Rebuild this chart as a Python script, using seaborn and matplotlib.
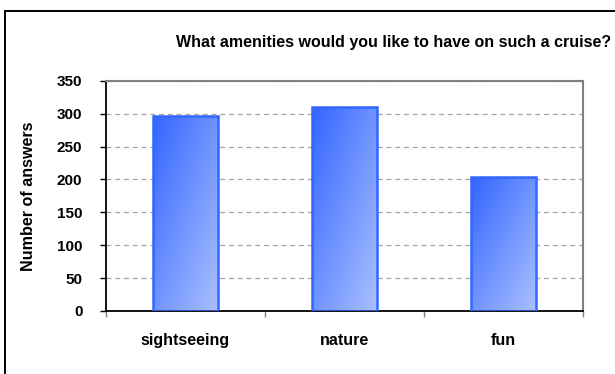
import numpy as np
import pandas as pd
import matplotlib
matplotlib.use("Agg")
import matplotlib.pyplot as plt
from matplotlib.colors import LinearSegmentedColormap
from matplotlib.lines import Line2D
import seaborn as sns

# Survey results
categories = ["sightseeing", "nature", "fun"]
answers = [297, 310, 203]
y_ticks = [0, 50, 100, 150, 200, 250, 300, 350]
title = "What amenities would you like to have on such a cruise?"
y_label = "Number of answers"

df = pd.DataFrame({"amenity": categories, "answers": answers})

sns.set_theme(style="white")
plt.rcParams["font.family"] = ["Liberation Sans", "DejaVu Sans"]
plt.rcParams["font.weight"] = "bold"
plt.rcParams["text.color"] = "black"
plt.rcParams["axes.labelcolor"] = "black"
plt.rcParams["xtick.labelcolor"] = "black"
plt.rcParams["ytick.labelcolor"] = "black"

W, H = 615, 374
fig = plt.figure(figsize=(W / 100, H / 100), dpi=100)
fig.patch.set_facecolor("white")

left, right, top, bottom = 106, 583, 80.7, 311
ax = fig.add_axes([left / W, 1 - bottom / H, (right - left) / W, (bottom - top) / H])

edge_blue = "#3366FF"
sns.barplot(data=df, x="amenity", y="answers", ax=ax, width=0.41,
            color=edge_blue, edgecolor=edge_blue, linewidth=1.8, saturation=1)

ax.set_xlim(-0.5, len(categories) - 0.5)
ax.set_ylim(0, 350)
ax.set_yticks(y_ticks)
ax.set_xlabel("")

# diagonal gradient fill inside each bar, clipped to the bar outline
grad_cmap = LinearSegmentedColormap.from_list("bar_grad", ["#3366FF", "#ABC0FF"])
n = 120
jj, ii = np.meshgrid(np.linspace(0, 1, n), np.linspace(0, 1, n))
grad = (jj + ii) / 2.0
for p in list(ax.patches):
    x0, y0 = p.get_x(), p.get_y()
    w, h = p.get_width(), p.get_height()
    p.set_facecolor("none")
    p.set_zorder(3)
    im = ax.imshow(grad, cmap=grad_cmap, vmin=0, vmax=1, origin="upper",
                   extent=[x0, x0 + w, y0, y0 + h], aspect="auto",
                   interpolation="bilinear", zorder=2.5)
    im.set_clip_path(p)

# dashed horizontal gridlines
ax.yaxis.grid(True, linestyle=(0, (4, 3)), color="#A6A6A6", linewidth=0.9)
ax.xaxis.grid(False)
ax.set_axisbelow(True)

# frame: black left/bottom, grey top/right
for side in ["left", "bottom"]:
    ax.spines[side].set_color("black")
    ax.spines[side].set_linewidth(1.3)
for side in ["top", "right"]:
    ax.spines[side].set_color("#808080")
    ax.spines[side].set_linewidth(1.5)
    ax.spines[side].set_visible(True)

# category labels without marks; boundary marks between categories
ax.set_xticks(range(len(categories)))
ax.set_xticklabels(categories, fontsize=11.5, fontweight="bold", color="black")
ax.set_xticks(np.arange(-0.5, len(categories), 1.0), minor=True)
ax.tick_params(axis="x", which="major", length=0, pad=16, labelcolor="black")
ax.tick_params(axis="x", which="minor", length=4, width=1.0, color="#808080",
               direction="out", bottom=True)
ax.tick_params(axis="y", which="major", length=4, width=1.0, color="black",
               direction="out", left=True, pad=13, labelsize=11, labelcolor="black")
for t in ax.get_yticklabels():
    t.set_fontweight("bold")

ax.set_ylabel(y_label, fontsize=11.6, fontweight="bold", va="center", color="black")
ax.yaxis.set_label_coords((29 - left) / (right - left), 0.5)

fig.text(611 / W, 1 - 42 / H, title, ha="right", va="center",
         fontsize=11.5, fontweight="bold", color="black")

# outer chart border
fig.add_artist(Line2D([5 / W, 5 / W], [0, 1 - 11 / H], color="black",
                      linewidth=1.4, transform=fig.transFigure))
fig.add_artist(Line2D([5 / W, 1], [1 - 11 / H, 1 - 11 / H], color="black",
                      linewidth=1.4, transform=fig.transFigure))

fig.savefig("out.png", dpi=100, facecolor="white")
